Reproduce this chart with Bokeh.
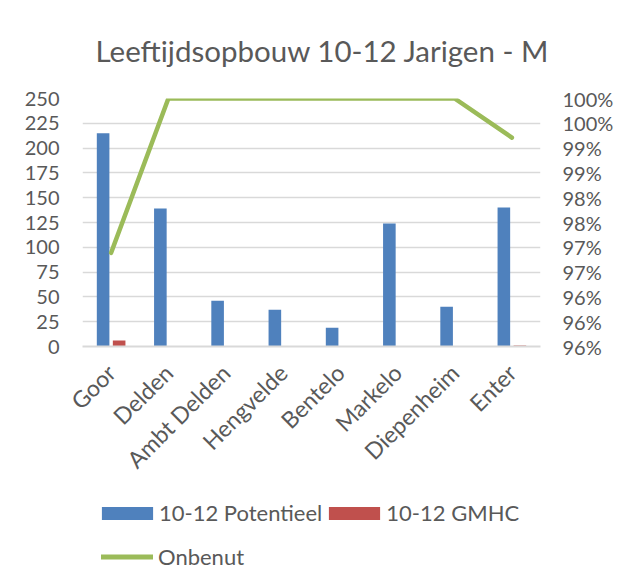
from bokeh.plotting import figure
from bokeh.models import (Range1d, LinearAxis, FixedTicker, Legend, LegendItem,
                          FactorRange, ColumnDataSource)
from bokeh.layouts import column
from bokeh.transform import dodge
from bokeh.embed import file_html
from bokeh.resources import INLINE
import math

# ---- data ----
categories = ["Goor", "Delden", "Ambt Delden", "Hengvelde", "Bentelo",
              "Markelo", "Diepenheim", "Enter"]
potentieel = [215, 139, 46, 37, 19, 124, 40, 140]
gmhc = [6, 0, 0, 0, 0, 0, 0, 1]
onbenut = [0.972, 1.0, 1.0, 1.0, 1.0, 1.0, 1.0, 0.9929]
left_ticks = [0, 25, 50, 75, 100, 125, 150, 175, 200, 225, 250]
right_ticks = [0.955, 0.9595, 0.964, 0.9685, 0.973, 0.9775, 0.982,
               0.9865, 0.991, 0.9955, 1.0]
right_labels = ["96%", "96%", "96%", "97%", "97%", "98%", "98%",
                "99%", "99%", "100%", "100%"]
series_names = ["10-12 Potentieel", "10-12 GMHC", "Onbenut"]

BLUE = "#4F81BD"
RED = "#C0504D"
GREEN = "#9BBB59"
TXT = "#595959"
GRID = "#D9D9D9"
FONT = "Lato"
FS = "20px"

src = ColumnDataSource(dict(cat=categories, pot=potentieel, gm=gmhc, onb=onbenut))

p = figure(frame_width=458, frame_height=248, x_range=FactorRange(*categories),
           y_range=Range1d(0, 250), output_backend="svg", toolbar_location=None,
           min_border_left=82, min_border_right=78, min_border_top=98,
           min_border_bottom=130, outline_line_color=None)
p.extra_y_ranges = {"pct": Range1d(0.955, 1.0)}

p.title.text = "Leeftijdsopbouw 10-12 Jarigen - M"
p.title.align = "left"
p.title.vertical_align = "top"
p.title.offset = 13
p.title.standoff = 58
p.title.text_font = FONT
p.title.text_font_size = "29.5px"
p.title.text_font_style = "normal"
p.title.text_color = TXT

b1 = p.vbar(x=dodge("cat", -0.14, range=p.x_range), top="pot", width=0.22,
            source=src, fill_color=BLUE, line_color=None)
b2 = p.vbar(x=dodge("cat", 0.14, range=p.x_range), top="gm", width=0.22,
            source=src, fill_color=RED, line_color=None)
ln = p.line(x="cat", y="onb", source=src, y_range_name="pct", line_color=GREEN,
            line_width=4.5, line_cap="round", line_join="round")

# axes
p.yaxis.ticker = FixedTicker(ticks=left_ticks)
p.ygrid.ticker = FixedTicker(ticks=left_ticks)
p.ygrid.grid_line_color = GRID
p.ygrid.grid_line_width = 1.5
p.xgrid.grid_line_color = None


def style_axis(ax, standoff, size=FS):
    ax.axis_line_color = None
    ax.major_tick_line_color = None
    ax.minor_tick_line_color = None
    ax.major_tick_out = 0
    ax.major_tick_in = 0
    ax.minor_tick_out = 0
    ax.minor_tick_in = 0
    ax.major_label_text_font = FONT
    ax.major_label_text_font_size = size
    ax.major_label_text_color = TXT
    ax.major_label_standoff = standoff


style_axis(p.yaxis[0], 23)

ra = LinearAxis(y_range_name="pct", ticker=FixedTicker(ticks=right_ticks),
                major_label_overrides={t: l for t, l in zip(right_ticks, right_labels)})
style_axis(ra, 22)
p.add_layout(ra, "right")

xa = p.xaxis[0]
style_axis(xa, 22, "23px")
xa.axis_line_color = GRID
xa.axis_line_width = 2
xa.major_label_orientation = math.pi / 4

# ---- legend strip below the chart (frame aligned with the chart frame) ----
lp = figure(width=618, height=100,
            x_range=Range1d(0, 1), y_range=Range1d(0, 1),
            output_backend="svg", toolbar_location=None,
            min_border=0, outline_line_color=None,
            x_axis_location=None, y_axis_location=None)
lp.xgrid.grid_line_color = None
lp.ygrid.grid_line_color = None
# off-screen swatch renderers (only used to draw legend keys)
d1 = lp.vbar(x=[-5], top=[-5], bottom=[-6], width=0.1, fill_color=BLUE, line_color=None)
d2 = lp.vbar(x=[-5], top=[-5], bottom=[-6], width=0.1, fill_color=RED, line_color=None)
d3 = lp.line(x=[-5, -4], y=[-5, -5], line_color=GREEN, line_width=5, line_cap="round")

leg1 = Legend(items=[LegendItem(label=series_names[0], renderers=[d1]),
                     LegendItem(label=series_names[1], renderers=[d2])],
              orientation="horizontal", location=(13, 60))
leg1.glyph_width = 64
leg1.glyph_height = 16
leg1.label_standoff = -1
leg1.spacing = 0
leg2 = Legend(items=[LegendItem(label=series_names[2], renderers=[d3])],
              orientation="horizontal", location=(19, 16))
leg2.glyph_width = 52
leg2.glyph_height = 13
leg2.label_standoff = 5
leg2.spacing = 0
for lg in (leg1, leg2):
    lg.border_line_color = None
    lg.background_fill_alpha = 0
    lg.label_text_font = FONT
    lg.label_text_font_size = "22px"
    lg.label_text_color = TXT
    lg.padding = 0
    lg.margin = 0
    lg.label_height = 24
lp.add_layout(leg1)
lp.add_layout(leg2)

layout = column(p, lp, spacing=0)
open("out.html", "w").write(file_html(layout, INLINE))
